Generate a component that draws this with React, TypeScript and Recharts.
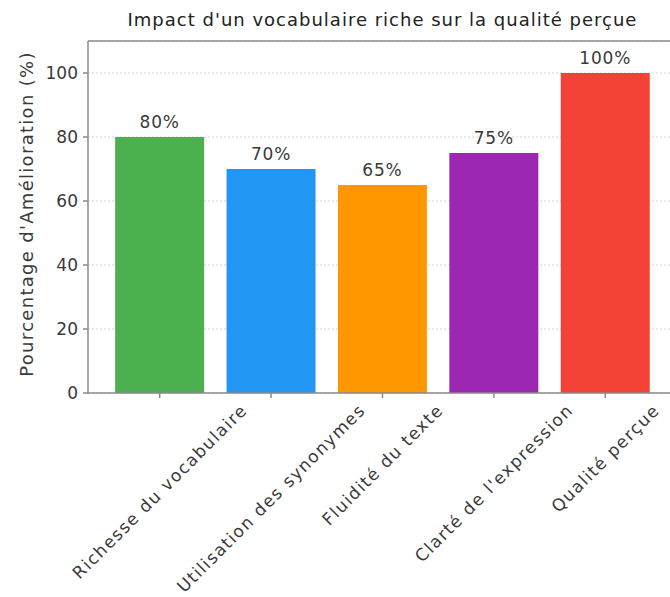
import React from 'react';
import {
  BarChart,
  Bar,
  XAxis,
  YAxis,
  CartesianGrid,
  Cell,
  LabelList,
  ReferenceLine,
} from 'recharts';

const categories = [
  'Richesse du vocabulaire',
  'Utilisation des synonymes',
  'Fluidité du texte',
  "Clarté de l'expression",
  'Qualité perçue',
];
const improvements = [80, 70, 65, 75, 100];
const barColors = ['#4CAF50', '#2196F3', '#FF9800', '#9C27B0', '#F44336'];
const yTicks = [0, 20, 40, 60, 80, 100];

const data = categories.map((name, i) => ({ name, value: improvements[i] }));

const FONT = "'DejaVu Sans', sans-serif";
const LABEL_SIZE = 17;
const LABEL_SPACING = 1.4;
const AXIS_GRAY = '#8a8a8a';
const TEXT = '#3a3a3a';

// width of a string in the given font, used to centre the slanted labels
const ctx = document.createElement('canvas').getContext('2d');
const textWidth = (text: string, size: number, spacing: number) => {
  const base = ctx
    ? ((ctx.font = `${size}px DejaVu Sans`), ctx.measureText(text).width)
    : text.length * size * 0.6;
  return base + text.length * spacing;
};

function SlantTick({ x, y, payload }: any) {
  const w = textWidth(payload.value, LABEL_SIZE, LABEL_SPACING);
  const half = ((w + LABEL_SIZE) * Math.SQRT1_2) / 2;
  return (
    <text
      transform={`translate(${x},${y + 1 + half}) rotate(-45)`}
      textAnchor="middle"
      dominantBaseline="central"
      fontFamily={FONT}
      fontSize={LABEL_SIZE}
      letterSpacing={LABEL_SPACING}
      fill={TEXT}
    >
      {payload.value}
    </text>
  );
}

export default function App() {
  return (
    <div
      style={{
        position: 'absolute',
        left: 0,
        top: 0,
        width: 670,
        height: 597,
        overflow: 'hidden',
        background: '#fff',
        fontFamily: FONT,
      }}
    >
      <div
        style={{
          position: 'absolute',
          left: 88,
          width: 589,
          top: 9,
          textAlign: 'center',
          fontSize: 18,
          letterSpacing: 1,
          color: '#222',
          whiteSpace: 'nowrap',
        }}
      >
        Impact d'un vocabulaire riche sur la qualité perçue
      </div>
      <div
        style={{
          position: 'absolute',
          left: 26,
          top: 214,
          transform: 'translate(-50%, -50%) rotate(-90deg)',
          fontSize: 18,
          letterSpacing: 1.3,
          color: TEXT,
          whiteSpace: 'nowrap',
        }}
      >
        Pourcentage d'Amélioration (%)
      </div>
      <BarChart
        width={700}
        height={597}
        data={data}
        margin={{ top: 41, right: 23, bottom: 0, left: 0 }}
        barCategoryGap="10%"
        style={{ position: 'absolute', left: 0, top: 0 }}
      >
        <CartesianGrid
          vertical={false}
          stroke="#d4d4d4"
          strokeDasharray="2 2"
        />
        <ReferenceLine y={110} stroke={AXIS_GRAY} strokeWidth={1.5} />
        <XAxis
          dataKey="name"
          interval={0}
          height={204}
          padding={{ left: 16, right: 16 }}
          stroke={AXIS_GRAY}
          strokeWidth={1.5}
          tickSize={5}
          tickMargin={2}
          tick={<SlantTick />}
        />
        <YAxis
          width={88}
          domain={[0, 110]}
          ticks={yTicks}
          stroke={AXIS_GRAY}
          strokeWidth={1.5}
          tickSize={5}
          tickMargin={5}
          tick={{ fontFamily: FONT, fontSize: 17, fill: TEXT }}
        />
        <Bar dataKey="value" isAnimationActive={false}>
          {data.map((d, i) => (
            <Cell key={d.name} fill={barColors[i]} />
          ))}
          <LabelList
            dataKey="value"
            position="top"
            offset={9}
            formatter={(v: any) => `${v}%`}
            style={{
              fontFamily: FONT,
              fontSize: 17,
              letterSpacing: 0.8,
              fill: TEXT,
            }}
          />
        </Bar>
      </BarChart>
    </div>
  );
}
